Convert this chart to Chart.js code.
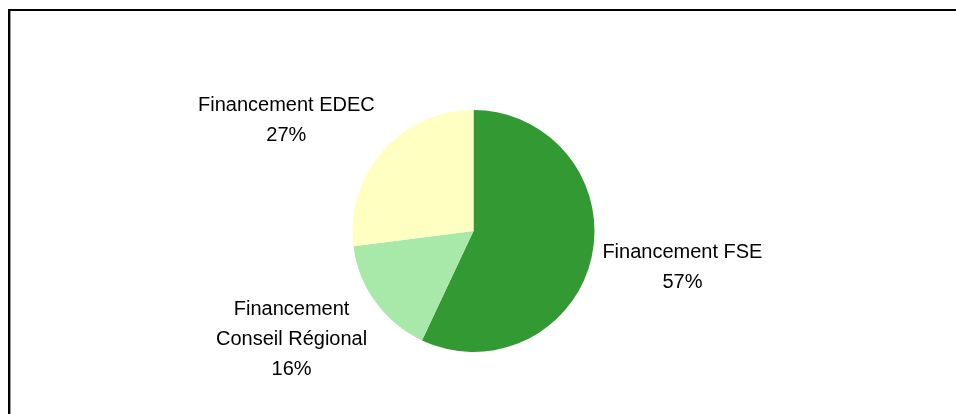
<!DOCTYPE html>
<html>
<head>
<meta charset="utf-8">
<script src="https://cdn.jsdelivr.net/npm/chart.js@4/dist/chart.umd.min.js"></script>
<style>
  html, body { margin: 0; padding: 0; background: #ffffff; }
  #wrap { position: relative; width: 956px; height: 414px; overflow: hidden; }
  #frame { position: absolute; left: 8px; top: 9px; width: 960px; height: 420px;
           border-left: 2px solid #000; border-top: 2px solid #000; box-sizing: border-box;
           box-shadow: inset 1px 0 0 #999; }
  canvas { position: absolute; left: 0; top: 0; }
</style>
</head>
<body>
<div id="wrap">
  <div id="frame"></div>
  <canvas id="c" width="956" height="414"></canvas>
</div>
<script>
const categories = ["Financement FSE", "Financement Conseil Régional", "Financement EDEC"];
const labelLines = [["Financement FSE"], ["Financement", "Conseil Régional"], ["Financement EDEC"]];
const values = [57, 16, 27];
const colors = ["#339933", "#A8E8A8", "#FFFFC2"];

const labelPlugin = {
  id: 'outerLabels',
  afterDatasetsDraw(chart) {
    const ctx = chart.ctx;
    const meta = chart.getDatasetMeta(0);
    const total = values.reduce((a, b) => a + b, 0);
    const fontSize = 20, lineH = 30, gap = 8;
    ctx.save();
    ctx.font = fontSize + 'px "Liberation Sans", Arial, sans-serif';
    ctx.fillStyle = '#000';
    ctx.textBaseline = 'middle';
    meta.data.forEach((arc, i) => {
      const p = arc.getProps(['x', 'y', 'startAngle', 'endAngle', 'outerRadius'], true);
      const mid = (p.startAngle + p.endAngle) / 2;
      const dx = Math.cos(mid), dy = Math.sin(mid);
      const ax = p.x + dx * (p.outerRadius + gap);
      const ay = p.y + dy * (p.outerRadius + gap);
      const lines = labelLines[i].concat([Math.round(values[i] / total * 100) + '%']);
      const widths = lines.map(l => ctx.measureText(l).width);
      const w = Math.max(...widths);
      const h = lines.length * lineH;
      const cx = dx < 0 ? ax - 2 - w / 2 : ax + 3 + w / 2;
      const cy = ay + dy * h / 2 * 1.25;
      ctx.textAlign = 'center';
      lines.forEach((l, k) => {
        ctx.fillText(l, cx, cy - h / 2 + lineH * (k + 0.5));
      });
    });
    ctx.restore();
  }
};

new Chart(document.getElementById('c'), {
  type: 'pie',
  data: {
    labels: categories,
    datasets: [{
      data: values,
      backgroundColor: colors,
      borderWidth: 0
    }]
  },
  options: {
    responsive: false,
    animation: false,
    layout: { padding: { left: 352, right: 361, top: 110, bottom: 62 } },
    plugins: { legend: { display: false }, tooltip: { enabled: false } }
  },
  plugins: [labelPlugin]
});
</script>
</body>
</html>
